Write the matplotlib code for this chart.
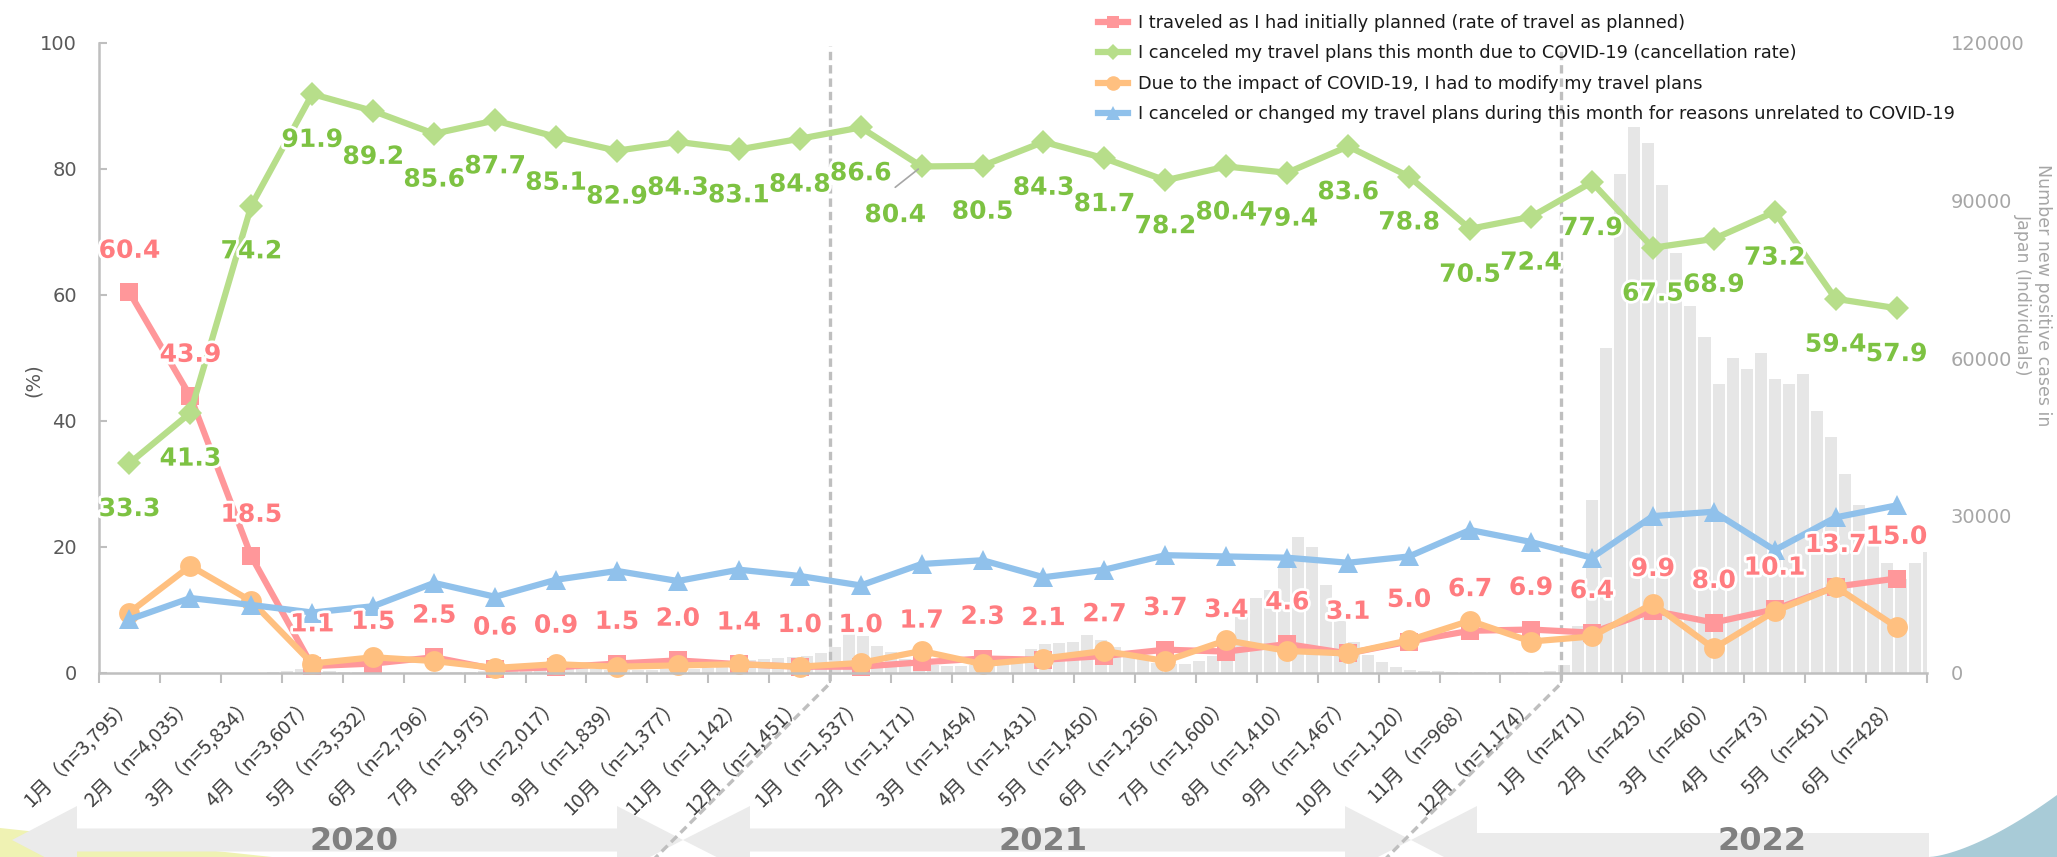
import numpy as np
import matplotlib
matplotlib.use("Agg")
import matplotlib.pyplot as plt
import matplotlib.patheffects as pe
from matplotlib.patches import Polygon
from matplotlib.lines import Line2D
from matplotlib import font_manager

# === data ===
months = ["1月", "2月", "3月", "4月", "5月", "6月", "7月", "8月", "9月", "10月", "11月", "12月",
          "1月", "2月", "3月", "4月", "5月", "6月", "7月", "8月", "9月", "10月", "11月", "12月",
          "1月", "2月", "3月", "4月", "5月", "6月"]
n_resp = ["3,795", "4,035", "5,834", "3,607", "3,532", "2,796", "1,975", "2,017", "1,839", "1,377",
          "1,142", "1,451", "1,537", "1,171", "1,454", "1,431", "1,450", "1,256", "1,600", "1,410",
          "1,467", "1,120", "968", "1,174", "471", "425", "460", "473", "451", "428"]

planned = [60.4, 43.9, 18.5, 1.1, 1.5, 2.5, 0.6, 0.9, 1.5, 2.0, 1.4, 1.0, 1.0, 1.7, 2.3,
           2.1, 2.7, 3.7, 3.4, 4.6, 3.1, 5.0, 6.7, 6.9, 6.4, 9.9, 8.0, 10.1, 13.7, 15.0]
cancelled = [33.3, 41.3, 74.2, 91.9, 89.2, 85.6, 87.7, 85.1, 82.9, 84.3, 83.1, 84.8, 86.6, 80.4, 80.5,
             84.3, 81.7, 78.2, 80.4, 79.4, 83.6, 78.8, 70.5, 72.4, 77.9, 67.5, 68.9, 73.2, 59.4, 57.9]
modified = [9.6, 17.0, 11.4, 1.5, 2.5, 1.9, 0.8, 1.4, 1.0, 1.2, 1.4, 1.0, 1.6, 3.5, 1.4,
            2.3, 3.5, 1.9, 5.2, 3.5, 3.1, 5.2, 8.3, 5.0, 5.8, 11.0, 3.9, 9.8, 13.7, 7.3]
other = [8.5, 11.9, 10.8, 9.6, 10.6, 14.3, 12.1, 14.8, 16.2, 14.6, 16.4, 15.4, 13.9, 17.3, 17.9,
         15.2, 16.4, 18.7, 18.5, 18.3, 17.5, 18.5, 22.7, 20.8, 18.3, 24.9, 25.6, 19.5, 24.7, 26.6]

series_names = [
    "I traveled as I had initially planned (rate of travel as planned)",
    "I canceled my travel plans this month due to COVID-19 (cancellation rate)",
    "Due to the impact of COVID-19, I had to modify my travel plans",
    "I canceled or changed my travel plans during this month for reasons unrelated to COVID-19",
]

# new positive cases in Japan, weekly (weeks starting 2020-01-01)
weekly_cases = [
    0, 0, 2, 3, 5, 10, 15, 25, 30, 50, 60, 70, 200,
    400, 700, 580, 350, 250, 120, 60, 40, 40, 50, 60, 90, 110,
    250, 420, 660, 980, 1500, 1600, 1350, 1180, 900, 670, 600, 600, 560,
    620, 750, 620, 800, 1000, 1300, 1700, 2500, 2600, 2800, 3000, 3200, 3900, 4900,
    7900, 7100, 5200, 4000, 2600, 1800, 1500, 1300, 1300, 1500, 2000, 2100,
    3000, 4500, 5500, 5800, 5900, 7200, 6300, 5000, 3700, 3000, 2000, 1800, 1800,
    2200, 3200, 5000, 10700, 14200, 15800, 20000, 25900, 24000, 16800, 10000, 6000, 3500,
    2100, 1100, 600, 400, 300, 250, 200, 200, 150, 150, 180, 250, 350, 1500,
    9000, 33000, 62000, 95000, 104000, 101000, 93000, 80000, 70000, 64000, 55000, 60000, 58000,
    61000, 56000, 55000, 57000, 50000, 45000, 38000, 32000, 25000, 21000, 18000, 21000, 23000,
]
n_days = 912
years = ["2020", "2021", "2022"]

# === layout helpers (pixels from top-left) ===
W, H = 2057, 857
fig = plt.figure(figsize=(W / 100, H / 100), dpi=100)


def fx(px):
    return px / W


def fy(py):
    return 1 - py / H


installed = {f.name for f in font_manager.fontManager.ttflist}
jp_font = ["Noto Sans CJK JP", "DejaVu Sans"] if "Noto Sans CJK JP" in installed else ["DejaVu Sans"]

AX_L, AX_R, AX_T, AX_B = 99, 1927, 43, 673
rect = [fx(AX_L), fy(AX_B), fx(AX_R) - fx(AX_L), fy(AX_T) - fy(AX_B)]

# background: daily case counts (right axis)
ax_bg = fig.add_axes(rect, zorder=0)
ax_bg.bar(7 * np.arange(len(weekly_cases)), weekly_cases, width=6, align="edge",
          color="#E6E6E6", linewidth=0)
ax_bg.set_xlim(0, n_days)
ax_bg.set_ylim(0, 120000)
ax_bg.set_yticks([0, 30000, 60000, 90000, 120000])
ax_bg.yaxis.tick_right()
ax_bg.tick_params(axis="y", length=0, pad=17, labelsize=14, labelcolor="#A6A6A6")
ax_bg.set_xticks([])
for s in ax_bg.spines.values():
    s.set_visible(False)

# foreground: survey percentages
ax = fig.add_axes(rect, zorder=1)
ax.patch.set_visible(False)
x = np.arange(len(months))

styles = [
    (planned, "#FF979A", "s", 13),
    (cancelled, "#B7DE8A", "D", 12),
    (modified, "#FFC080", "o", 15),
    (other, "#90C1EB", "^", 15),
]
handles = []
for (vals, col, mk, ms), name in zip(styles, series_names):
    h, = ax.plot(x, vals, color=col, lw=4.5, marker=mk, markersize=ms,
                 markeredgewidth=0, label=name, clip_on=False)
    handles.append(h)

halo = [pe.withStroke(linewidth=4, foreground="white")]
for i, v in enumerate(planned):
    ax.annotate(f"{v:.1f}", (i, v), xytext=(0, 30), textcoords="offset points",
                ha="center", va="center", fontsize=18, fontweight="bold",
                color="#FF7C80", path_effects=halo, zorder=5)
for i, v in enumerate(cancelled):
    off = (-19, -35) if i == 13 else (0, -33)
    ax.annotate(f"{v:.1f}", (i, v), xytext=off, textcoords="offset points",
                ha="center", va="center", fontsize=18, fontweight="bold",
                color="#7DC242", path_effects=halo, zorder=5)
# leader line for the moved label
ax.annotate("", xy=(13, cancelled[13]), xytext=(-19, -15), textcoords="offset points",
            arrowprops=dict(arrowstyle="-", color="#A6A6A6", lw=1.2, shrinkA=0, shrinkB=3))

ax.set_xlim(-0.5, len(months) - 0.5)
ax.set_ylim(0, 100)
ax.set_yticks(range(0, 101, 20))
ax.tick_params(axis="y", direction="in", length=6, color="#BFBFBF", width=1.5,
               labelsize=14, labelcolor="#595959", pad=16)
ax.set_xticks(x)
ax.set_xticklabels([f"{m}（n={n}）" for m, n in zip(months, n_resp)],
                   rotation=45, ha="right", va="center", rotation_mode="anchor",
                   family=jp_font, fontsize=14.5, color="#404040")
ax.tick_params(axis="x", which="major", length=0, pad=20)
ax.set_xticks(np.arange(-0.5, len(months)), minor=True)
ax.tick_params(axis="x", which="minor", direction="out", length=7, color="#BFBFBF", width=1.5)
for side in ["top", "right"]:
    ax.spines[side].set_visible(False)
for side in ["left", "bottom"]:
    ax.spines[side].set_color("#BFBFBF")
    ax.spines[side].set_linewidth(1.8)

# year boundaries
for b in [11.5, 23.5]:
    ax.plot([b, b], [0, 99.5], color="#BFBFBF", lw=2.4, ls=(0, (2.5, 1.5)), zorder=0.5)

fig.text(fx(33), fy(380), "(%)", rotation=90, ha="center", va="center",
         fontsize=14, color="#595959")
fig.text(fx(2033), fy(295), "Number new positive cases in\nJapan (Individuals)",
         rotation=-90, ha="center", va="center", multialignment="center",
         fontsize=12.5, color="#A6A6A6", linespacing=1.1)

fig.legend(handles=handles, loc="upper left", bbox_to_anchor=(fx(1098), fy(14)),
           frameon=False, fontsize=12.8, labelspacing=0.7, handlelength=1.7,
           handletextpad=0.55, borderaxespad=0, borderpad=0, markerscale=0.7,
           labelcolor="#1A1A1A")

# === bottom decoration: year arrows ===
def poly(pts, color, z):
    fig.add_artist(Polygon([(fx(a), fy(b)) for a, b in pts], closed=True,
                           transform=fig.transFigure, fc=color, ec="none", zorder=z))


poly([(0, 828), (300, 860), (0, 860)], "#EFF2B3", 1)
yc, bh, hh = 840, 11.5, 34
arrow_col = "#EBEBEB"
poly([(12, yc), (77, yc - hh), (77, yc - bh), (617, yc - bh), (617, yc - hh), (683, yc),
      (617, yc + hh), (617, yc + bh), (77, yc + bh), (77, yc + hh)], arrow_col, 2)
poly([(683, yc), (750, yc - hh), (750, yc - bh), (1345, yc - bh), (1345, yc - hh), (1411, yc),
      (1345, yc + hh), (1345, yc + bh), (750, yc + bh), (750, yc + hh)], arrow_col, 2)
poly([(1411, yc), (1477, yc - hh), (1477, yc - 7), (1929, yc - 7), (1929, yc + 20),
      (1477, yc + 20), (1477, yc + hh)], arrow_col, 2)

tx = np.linspace(1929, W, 30)
ty = 857 - 62 * ((tx - 1929) / (W - 1929)) ** 1.5
poly(list(zip(tx, ty)) + [(W, 860), (1929, 860)], "#A8CBD7", 3)

for px in [830.2, 1561.4]:
    fig.add_artist(Line2D([fx(px), fx(px), fx(px - 190)], [fy(AX_B), fy(683), fy(873)],
                          transform=fig.transFigure, color="#BFBFBF", lw=2.4,
                          ls=(0, (2.5, 1.5)), zorder=4))

for label, cx in zip(years, [354, 1043, 1762]):
    fig.text(fx(cx), fy(842), label, ha="center", va="center", fontsize=23,
             fontweight="bold", color="#808080", zorder=5)

fig.savefig("out.png", dpi=100)
